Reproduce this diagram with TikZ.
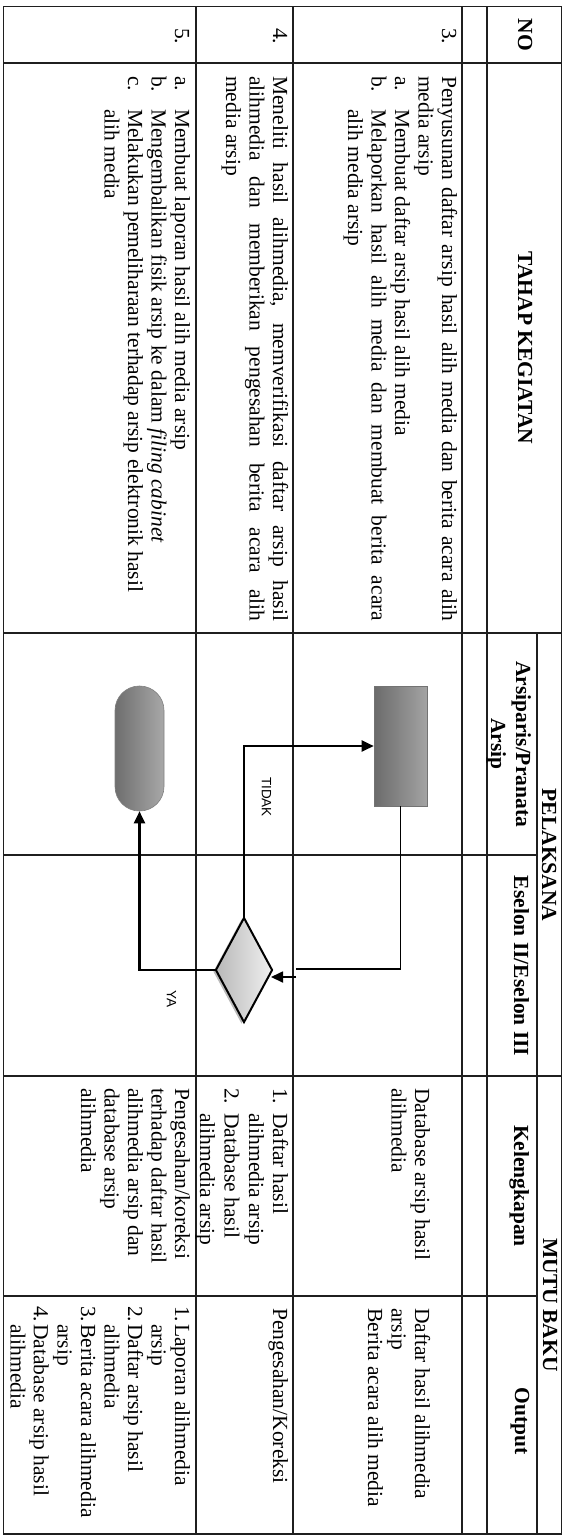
\documentclass[tikz,border=0pt]{standalone}
\usepackage{fontspec}
\setmainfont{Liberation Serif}
\setsansfont{Liberation Sans}
\usetikzlibrary{arrows.meta,shapes.geometric,shadows}
\newcommand\jline[2]{\makebox[#1pt][s]{#2}}
\newcommand\bodysize{\fontsize{21.5}{23.5}\selectfont}
\begin{document}
\begin{tikzpicture}[x=1pt,y=-1pt,
  grid/.style={line width=1.1pt, draw=black!88},
  txt/.style={rotate=-90, anchor=base west, inner sep=0pt, font=\bodysize},
  hdr/.style={rotate=-90, anchor=base, inner sep=0pt, font=\bodysize\bfseries},
  lbl/.style={rotate=-90, inner sep=0pt, font=\sffamily\fontsize{13.5}{15}\selectfont},
  flow/.style={line width=2.2pt, draw=black},
  thinflow/.style={line width=1.7pt, draw=black},
  tip/.style={-{Triangle[length=12pt,width=11pt]}}
]
\useasboundingbox (0,0) rectangle (564,1537);
\fill[white] (0,0) rectangle (564,1537);

% ---------- table grid ----------
\draw[grid] (3.6,6.7) rectangle (561.5,1534);
\draw[grid] (196,6.7) -- (196,1534);
\draw[grid] (293,6.7) -- (293,1534);
\draw[grid] (462,6.7) -- (462,1534);
\draw[grid] (487,6.7) -- (487,1534);
\draw[grid] (537,633) -- (537,1534);
\draw[grid] (3.6,63) -- (561.5,63);
\draw[grid] (3.6,633) -- (561.5,633);
\draw[grid] (3.6,855) -- (537,855);
\draw[grid] (3.6,1076) -- (561.5,1076);
\draw[grid] (3.6,1296) -- (537,1296);

% ---------- header ----------
\node[hdr] (hNo) at (518,35) {NO};
\node[hdr] (hTahap) at (518,348) {TAHAP KEGIATAN};
\node[hdr] (hPel) at (542,855) {PELAKSANA};
\node[hdr] (hArs1) at (516,744) {Arsiparis/Pranata};
\node[hdr] (hArs2) at (491,744) {Arsip};
\node[hdr] (hEs) at (514,966) {Eselon II/Eselon III};
\node[hdr] (hMutu) at (543,1305) {MUTU BAKU};
\node[hdr] (hKel) at (514,1186) {Kelengkapan};
\node[hdr] (hOut) at (515,1421) {Output};

% ---------- numbers ----------
\node[txt] (no3) at (442,28) {3.};
\node[txt] (no4) at (273,28) {4.};
\node[txt] (no5) at (175,28) {5.};

% ---------- row 3 tahap ----------
\node[txt] (r3l1) at (442,76) {\jline{545}{Penyusunan daftar arsip hasil alih media dan berita acara alih}};
\node[txt] (r3l2) at (418.5,76) {media arsip};
\node[txt] (r3a) at (395,76) {a.};
\node[txt] (r3l3) at (395,109) {Membuat daftar arsip hasil alih media};
\node[txt] (r3b) at (371.5,76) {b.};
\node[txt] (r3l4) at (371.5,109) {\jline{512}{Melaporkan hasil alih media dan membuat berita acara}};
\node[txt] (r3l5) at (348,109) {alih media arsip};

% ---------- row 4 tahap ----------
\node[txt] (r4l1) at (273,76) {\jline{545}{Meneliti hasil alihmedia, memverifikasi daftar arsip hasil}};
\node[txt] (r4l2) at (249.5,76) {\jline{545}{alihmedia dan memberikan pengesahan berita acara alih}};
\node[txt] (r4l3) at (226,76) {media arsip};

% ---------- row 5 tahap ----------
\node[txt] (r5a) at (175,76) {a.};
\node[txt] (r5l1) at (175,109) {Membuat laporan hasil alih media arsip};
\node[txt] (r5b) at (151.5,76) {b.};
\node[txt] (r5l2) at (151.5,109) {Mengembalikan fisik arsip ke dalam \textit{filing cabinet}};
\node[txt] (r5c) at (128,76) {c.};
\node[txt] (r5l3) at (128,109) {Melakukan pemeliharaan terhadap arsip elektronik hasil};
\node[txt] (r5l4) at (104.5,109) {alih media};

% ---------- kelengkapan ----------
\node[txt] (k3l1) at (415,1088) {Database arsip hasil};
\node[txt] (k3l2) at (391.5,1088) {alihmedia};
\node[txt] (k4n1) at (273,1088) {1.};
\node[txt] (k4l1) at (273,1113) {Daftar hasil};
\node[txt] (k4l2) at (249,1113) {alihmedia arsip};
\node[txt] (k4n2) at (224.5,1088) {2.};
\node[txt] (k4l3) at (224.5,1113) {Database hasil};
\node[txt] (k4l4) at (200,1113) {alihmedia arsip};
\node[txt] (k5l1) at (175,1088) {Pengesahan/koreksi};
\node[txt] (k5l2) at (151.5,1088) {terhadap daftar hasil};
\node[txt] (k5l3) at (128,1088) {alihmedia arsip dan};
\node[txt] (k5l4) at (104.5,1088) {database arsip};
\node[txt] (k5l5) at (81,1088) {alihmedia};

% ---------- output ----------
\node[txt] (o3l1) at (415,1308) {Daftar hasil alihmedia};
\node[txt] (o3l2) at (391.5,1308) {arsip};
\node[txt] (o3l3) at (368,1308) {Berita acara alih media};
\node[txt] (o4l1) at (273,1308) {Pengesahan/Koreksi};
\node[txt] (o5n1) at (175,1306) {1.};
\node[txt] (o5l1) at (175,1324) {Laporan alihmedia};
\node[txt] (o5l2) at (151.5,1324) {arsip};
\node[txt] (o5n2) at (128,1306) {2.};
\node[txt] (o5l3) at (128,1324) {Daftar arsip hasil};
\node[txt] (o5l4) at (104.5,1324) {alihmedia};
\node[txt] (o5n3) at (81,1306) {3.};
\node[txt] (o5l5) at (81,1324) {Berita acara alihmedia};
\node[txt] (o5l6) at (57.5,1324) {arsip};
\node[txt] (o5n4) at (34,1306) {4.};
\node[txt] (o5l7) at (34,1324) {Database arsip hasil};
\node[txt] (o5l8) at (10.5,1324) {alihmedia};

% ---------- flow shapes ----------
\node[draw=black!55, line width=0.6pt, minimum width=53pt, minimum height=120pt, inner sep=0pt,
      left color=black!58, right color=black!36] (rect) at (400.5,746) {};
\node[draw=black!50, line width=0.6pt, minimum width=49pt, minimum height=125pt, inner sep=0pt,
      rounded corners=24.4pt, left color=black!57, right color=black!34] (term) at (139.5,748.5) {};
\node[diamond, draw=black, line width=2pt, minimum width=57pt, minimum height=105pt, inner sep=0pt,
      left color=black!28, right color=black!6,
      drop shadow={shadow xshift=-2.5pt, shadow yshift=-1.5pt, fill=black!45, opacity=0.6}] (dec) at (244,970) {};

% ---------- connectors ----------
\coordinate (j1) at (296,969);
\coordinate (j2) at (296,977);
\coordinate (j3) at (271,977);
\draw[thinflow] (rect.south) |- (j1);
\draw[thinflow, tip] (j2) -- (j3);
\draw[flow, tip] (dec.north) |- (rect.west);
\draw[flow, tip] (dec.west) -| (term.south);

% ---------- labels ----------
\node[lbl] (tidak) at (266.5,797) {TIDAK};
\node[lbl] (ya) at (171.5,999) {YA};
\end{tikzpicture}
\end{document}
